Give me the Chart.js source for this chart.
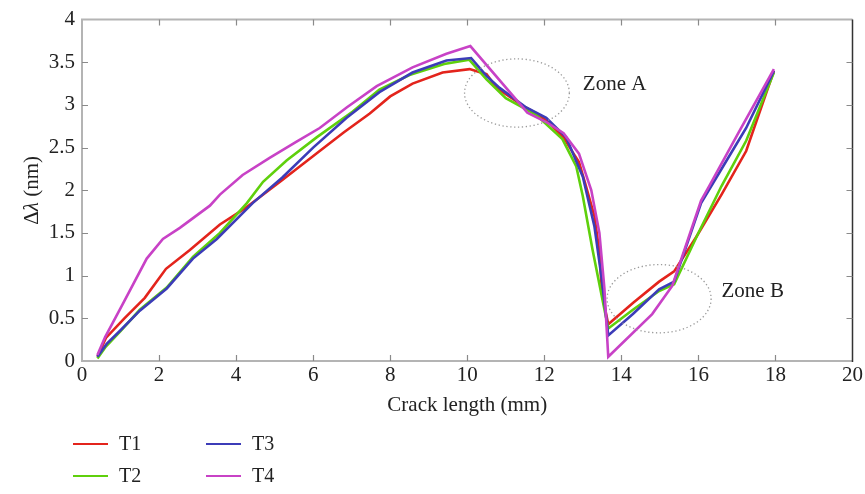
<!DOCTYPE html>
<html>
<head>
<meta charset="utf-8">
<script src="https://cdn.jsdelivr.net/npm/chart.js@4.4.1/dist/chart.umd.min.js"></script>
<style>
  html, body { margin: 0; padding: 0; background: #fff; }
</style>
</head>
<body>
<canvas id="myChart" width="865" height="494"></canvas>
<script>
// data (crack length in mm, delta lambda in nm)
const t1X = [0.4, 0.62, 1.1, 1.63, 2.18, 2.8, 3.58, 4.17, 4.5, 5.2, 6.17, 6.8, 7.47, 8.0, 8.58, 9.36, 10.06, 10.5, 10.76, 11.48, 11.8, 12.1, 12.5, 12.73, 12.9, 13.05, 13.3, 13.43, 13.5, 13.66, 14.3, 14.98, 15.37, 15.94, 16.6, 17.24, 17.96];
const t1Y = [0.05, 0.27, 0.5, 0.74, 1.08, 1.3, 1.6, 1.77, 1.88, 2.12, 2.46, 2.68, 2.9, 3.1, 3.25, 3.38, 3.42, 3.36, 3.2, 2.98, 2.9, 2.8, 2.62, 2.45, 2.33, 2.1, 1.7, 1.28, 0.78, 0.43, 0.68, 0.93, 1.05, 1.45, 1.95, 2.46, 3.4];

const t2X = [0.4, 0.62, 1.0, 1.5, 2.2, 2.88, 3.0, 3.58, 4.28, 4.7, 5.31, 6.09, 7.02, 7.72, 8.5, 9.4, 10.05, 10.5, 11.0, 11.8, 12.47, 12.83, 13.0, 13.25, 13.5, 13.66, 14.3, 14.98, 15.37, 16.0, 16.6, 17.24, 17.96];
const t2Y = [0.03, 0.17, 0.35, 0.6, 0.86, 1.22, 1.27, 1.5, 1.85, 2.1, 2.35, 2.62, 2.92, 3.18, 3.35, 3.48, 3.53, 3.3, 3.08, 2.88, 2.6, 2.28, 1.93, 1.31, 0.74, 0.38, 0.6, 0.82, 0.9, 1.5, 2.05, 2.58, 3.38];

const t3X = [0.4, 0.64, 1.0, 1.5, 2.2, 2.88, 3.5, 4.43, 5.2, 6.0, 6.87, 7.72, 8.58, 9.46, 10.1, 10.5, 10.84, 11.53, 12.05, 12.57, 13.0, 13.3, 13.5, 13.66, 14.3, 14.98, 15.37, 16.07, 16.6, 17.24, 17.96];
const t3Y = [0.05, 0.2, 0.36, 0.59, 0.85, 1.2, 1.43, 1.85, 2.15, 2.5, 2.85, 3.15, 3.38, 3.52, 3.55, 3.34, 3.2, 2.97, 2.85, 2.62, 2.16, 1.58, 0.93, 0.3, 0.55, 0.84, 0.93, 1.85, 2.25, 2.73, 3.4];

const t4X = [0.4, 0.6, 1.06, 1.68, 2.1, 2.54, 3.32, 3.58, 4.17, 4.87, 5.57, 6.17, 6.87, 7.65, 8.58, 9.46, 10.08, 11.56, 12.05, 12.5, 12.9, 13.22, 13.43, 13.56, 13.66, 14.8, 15.32, 16.07, 16.28, 17.06, 17.96];
const t4Y = [0.07, 0.28, 0.67, 1.2, 1.43, 1.56, 1.82, 1.95, 2.18, 2.38, 2.57, 2.73, 2.97, 3.22, 3.44, 3.6, 3.69, 2.91, 2.8, 2.67, 2.43, 2.0, 1.5, 0.85, 0.05, 0.55, 0.88, 1.88, 2.05, 2.69, 3.42];

const xTicks = [0, 2, 4, 6, 8, 10, 12, 14, 16, 18, 20];
const yTicks = [0, 0.5, 1, 1.5, 2, 2.5, 3, 3.5, 4];

const seriesNames = ['T1', 'T2', 'T3', 'T4'];
const seriesColors = ['#e3241c', '#5fd00c', '#3c3cb8', '#c842c6'];

// zones: center x, center y, radius x, radius y (data units), label position
const zoneNames = ['Zone A', 'Zone B'];
const zoneEllipses = [[11.29, 3.14, 1.36, 0.4], [14.98, 0.73, 1.35, 0.4]];
const zoneLabels = [[13.0, 3.24], [16.6, 0.82]];

const serif = '"Liberation Serif", "DejaVu Serif", serif';
const fs = 21;

function toPoints(xs, ys){
    return xs.map(function(x, i){ return {x: x, y: ys[i]}; });
}

let series = [[t1X, t1Y], [t2X, t2Y], [t3X, t3Y], [t4X, t4Y]];
let datasets = series.map(function(s, i){
    return {
        label: seriesNames[i],
        data: toPoints(s[0], s[1]),
        borderColor: seriesColors[i],
        backgroundColor: 'transparent',
        borderWidth: 2.6,
        pointRadius: 0,
        tension: 0,
        order: 3 - i   // T4 drawn on top
    };
});

// frame with inward ticks, zone ellipses, axis titles and legend
const decorations = {
    id: 'decorations',
    afterDatasetsDraw(chart){
        const ctx = chart.ctx;
        const a = chart.chartArea;
        const xs = chart.scales.x, ys = chart.scales.y;
        ctx.save();

        // zone ellipses
        ctx.strokeStyle = '#9a9a9a';
        ctx.lineWidth = 1.3;
        ctx.setLineDash([1.3, 2.6]);
        zoneEllipses.forEach(function(z){
            const cx = xs.getPixelForValue(z[0]);
            const cy = ys.getPixelForValue(z[1]);
            const rx = xs.getPixelForValue(z[0] + z[2]) - cx;
            const ry = cy - ys.getPixelForValue(z[1] + z[3]);
            ctx.beginPath();
            ctx.ellipse(cx, cy, rx, ry, 0, 0, Math.PI * 2);
            ctx.stroke();
        });
        ctx.setLineDash([]);

        ctx.fillStyle = '#222';
        ctx.font = fs + 'px ' + serif;
        ctx.textAlign = 'left';
        ctx.textBaseline = 'middle';
        zoneLabels.forEach(function(p, i){
            ctx.fillText(zoneNames[i], xs.getPixelForValue(p[0]), ys.getPixelForValue(p[1]));
        });

        // box
        ctx.lineWidth = 2;
        ctx.strokeStyle = '#b4b4b4';
        ctx.beginPath();
        ctx.moveTo(a.right, a.top); ctx.lineTo(a.left, a.top);
        ctx.lineTo(a.left, a.bottom); ctx.lineTo(a.right, a.bottom);
        ctx.stroke();
        ctx.strokeStyle = '#333';
        ctx.lineWidth = 1.5;
        ctx.beginPath();
        ctx.moveTo(a.right, a.top); ctx.lineTo(a.right, a.bottom + 1);
        ctx.stroke();

        // inward ticks
        const tl = 6;
        ctx.lineWidth = 1.2;
        ctx.strokeStyle = '#8a8a8a';
        ctx.beginPath();
        xTicks.slice(1, -1).forEach(function(v){
            const px = Math.round(xs.getPixelForValue(v)) + 0.5;
            ctx.moveTo(px, a.bottom); ctx.lineTo(px, a.bottom - tl);
            ctx.moveTo(px, a.top); ctx.lineTo(px, a.top + tl);
        });
        yTicks.slice(1, -1).forEach(function(v){
            const py = Math.round(ys.getPixelForValue(v)) + 0.5;
            ctx.moveTo(a.left, py); ctx.lineTo(a.left + tl, py);
            ctx.moveTo(a.right, py); ctx.lineTo(a.right - tl, py);
        });
        ctx.stroke();

        // x title
        ctx.fillStyle = '#222';
        ctx.font = fs + 'px ' + serif;
        ctx.textAlign = 'center';
        ctx.textBaseline = 'middle';
        ctx.fillText('Crack length (mm)', (a.left + a.right) / 2, a.bottom + 44);

        // y title, lambda in italics
        ctx.save();
        ctx.translate(32, (a.top + a.bottom) / 2);
        ctx.rotate(-Math.PI / 2);
        const parts = [['Δ', 'normal'], ['λ', 'italic'], [' (nm)', 'normal']];
        let w = 0;
        parts.forEach(function(p){ ctx.font = p[1] + ' ' + fs + 'px ' + serif; w += ctx.measureText(p[0]).width; });
        let x = -w / 2;
        ctx.textAlign = 'left';
        parts.forEach(function(p){
            ctx.font = p[1] + ' ' + fs + 'px ' + serif;
            ctx.fillText(p[0], x, 0);
            x += ctx.measureText(p[0]).width;
        });
        ctx.restore();

        // legend, two columns
        ctx.font = '20px ' + serif;
        ctx.textAlign = 'left';
        chart.data.datasets.forEach(function(ds, i){
            const col = Math.floor(i / 2), row = i % 2;
            const lx = 73 + col * 133;
            const ly = a.bottom + 83 + row * 32;
            ctx.strokeStyle = ds.borderColor;
            ctx.lineWidth = 2;
            ctx.beginPath();
            ctx.moveTo(lx, ly); ctx.lineTo(lx + 35, ly);
            ctx.stroke();
            ctx.fillStyle = '#222';
            ctx.fillText(ds.label, lx + 46, ly + 1);
        });

        ctx.restore();
    }
};

let config = {
    type: 'line',
    data: { datasets: datasets },
    options: {
        responsive: false,
        animation: false,
        layout: { padding: { top: 13, right: 12, left: 0, bottom: 0 } },
        plugins: {
            legend: { display: false },
            tooltip: { enabled: false }
        },
        scales: {
            x: {
                type: 'linear',
                min: 0, max: 20,
                grid: { display: false, drawTicks: false },
                border: { display: false },
                afterBuildTicks: function(s){ s.ticks = xTicks.map(v => ({value: v})); },
                afterFit: function(s){ s.height = 133; },
                ticks: { color: '#222', padding: 2, font: { family: serif, size: fs }, maxRotation: 0,
                         callback: v => String(v) }
            },
            y: {
                min: 0, max: 4,
                grid: { display: false, drawTicks: false },
                border: { display: false },
                afterBuildTicks: function(s){ s.ticks = yTicks.map(v => ({value: v})); },
                afterFit: function(s){ s.width = 82; },
                ticks: { color: '#222', padding: 7, font: { family: serif, size: fs },
                         callback: v => String(v) }
            }
        }
    },
    plugins: [decorations]
};

let myChart = new Chart(document.getElementById('myChart'), config);
</script>
</body>
</html>
